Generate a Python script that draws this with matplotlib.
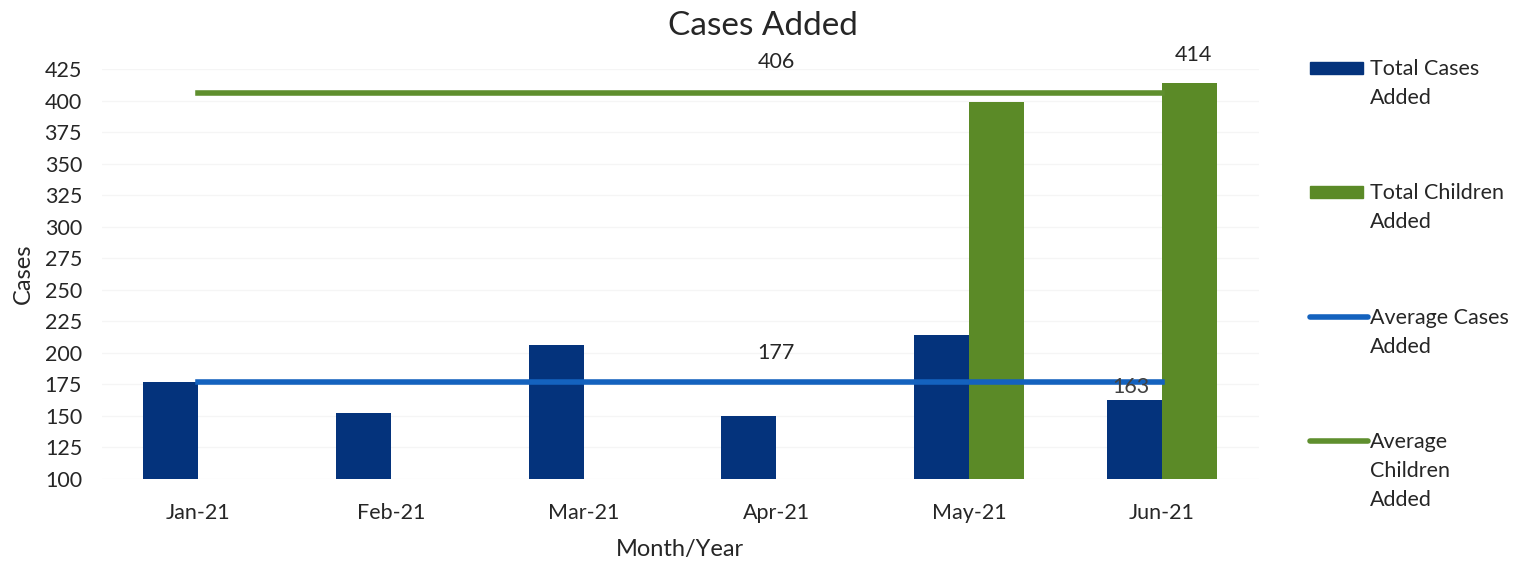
import numpy as np
import matplotlib
matplotlib.use("Agg")
import matplotlib.pyplot as plt
from matplotlib.patches import Rectangle
from matplotlib.lines import Line2D

# data
months = ["Jan-21", "Feb-21", "Mar-21", "Apr-21", "May-21", "Jun-21"]
total_cases = [177, 152, 206, 150, 214, 163]
total_children = [None, None, None, None, 399, 414]
avg_cases = 177
avg_children = 406
yticks = list(range(100, 426, 25))
legend_labels = ["Total Cases\nAdded", "Total Children\nAdded", "Average Cases\nAdded",
                 "Average\nChildren\nAdded"]

BLUE_BAR = "#04337c"
GREEN_BAR = "#5b8a27"
BLUE_LINE = "#1462be"
GREEN_LINE = "#5f8f2e"
TXT = "#262626"

plt.rcParams['font.family'] = ['Lato', 'DejaVu Sans']

W, H = 1525, 561
fig = plt.figure(figsize=(W / 100, H / 100), dpi=100)
ax = fig.add_axes([101.5 / W, 1 - 479 / H, (1258.5 - 101.5) / W, (479 - 69) / H])

x = np.arange(len(months))
w = 0.285

# bars start at the axis floor of 100
base = yticks[0]
ax.bar(x - w / 2, [v - base for v in total_cases], width=w, bottom=base,
       color=BLUE_BAR, zorder=2)
child_x = [i for i, v in enumerate(total_children) if v is not None]
child_v = [total_children[i] - base for i in child_x]
ax.bar(np.array(child_x) + w / 2, child_v, width=w, bottom=base,
       color=GREEN_BAR, zorder=2)

# average lines across the months
ax.plot(x, [avg_cases] * len(x), color=BLUE_LINE, lw=4, zorder=3)
ax.plot(x, [avg_children] * len(x), color=GREEN_LINE, lw=4, zorder=3)

# data labels
ax.text(3, avg_children + 17, str(avg_children), ha="center", va="bottom", fontsize=15.5, color=TXT)
ax.text(3, avg_cases + 15, str(avg_cases), ha="center", va="bottom", fontsize=15.5, color=TXT)
ax.text(5 + w / 2 + 0.02, total_children[5] + 14, str(total_children[5]), ha="center", va="bottom",
        fontsize=15.5, color=TXT)
ax.text(5 - w / 2 - 0.02, total_cases[5] + 2, str(total_cases[5]), ha="center", va="bottom",
        fontsize=15.5, color="#404040", zorder=4)

ax.set_xlim(-0.5, len(months) - 0.5)
ax.set_ylim(100, 425)
ax.set_yticks(yticks)
ax.set_xticks(x)
ax.set_xticklabels(months)
ax.tick_params(axis="both", length=0, labelsize=15.5, colors=TXT)
ax.tick_params(axis="x", pad=17)
ax.tick_params(axis="y", pad=14)
ax.yaxis.grid(True, color="#f5f5f5", lw=1, zorder=0)
ax.set_axisbelow(True)
for s in ax.spines.values():
    s.set_visible(False)

ax.set_ylabel("Cases", fontsize=17, color=TXT, labelpad=8)
ax.set_xlabel("Month/Year", fontsize=17, color=TXT, labelpad=12)
fig.text(763 / W, 1 - 26 / H, "Cases Added", ha="center", va="center", fontsize=24, color=TXT)

# legend on the right, one block per entry, key aligned with the first text line
entry_y = [68, 192, 317, 441]
kinds = [("bar", BLUE_BAR), ("bar", GREEN_BAR), ("line", BLUE_LINE), ("line", GREEN_LINE)]
for yy, (kind, col), lab in zip(entry_y, kinds, legend_labels):
    if kind == "bar":
        fig.add_artist(Rectangle((1310 / W, 1 - (yy + 6) / H), 53 / W, 12 / H,
                                 transform=fig.transFigure, color=col))
    else:
        fig.add_artist(Line2D([1310 / W, 1368 / W], [1 - yy / H] * 2, transform=fig.transFigure,
                              color=col, lw=4, solid_capstyle="round"))
    fig.text(1370 / W, 1 - (yy - 9) / H, lab, ha="left", va="top", fontsize=15.5,
             color=TXT, linespacing=1.55)

fig.savefig("out.png", dpi=100)
